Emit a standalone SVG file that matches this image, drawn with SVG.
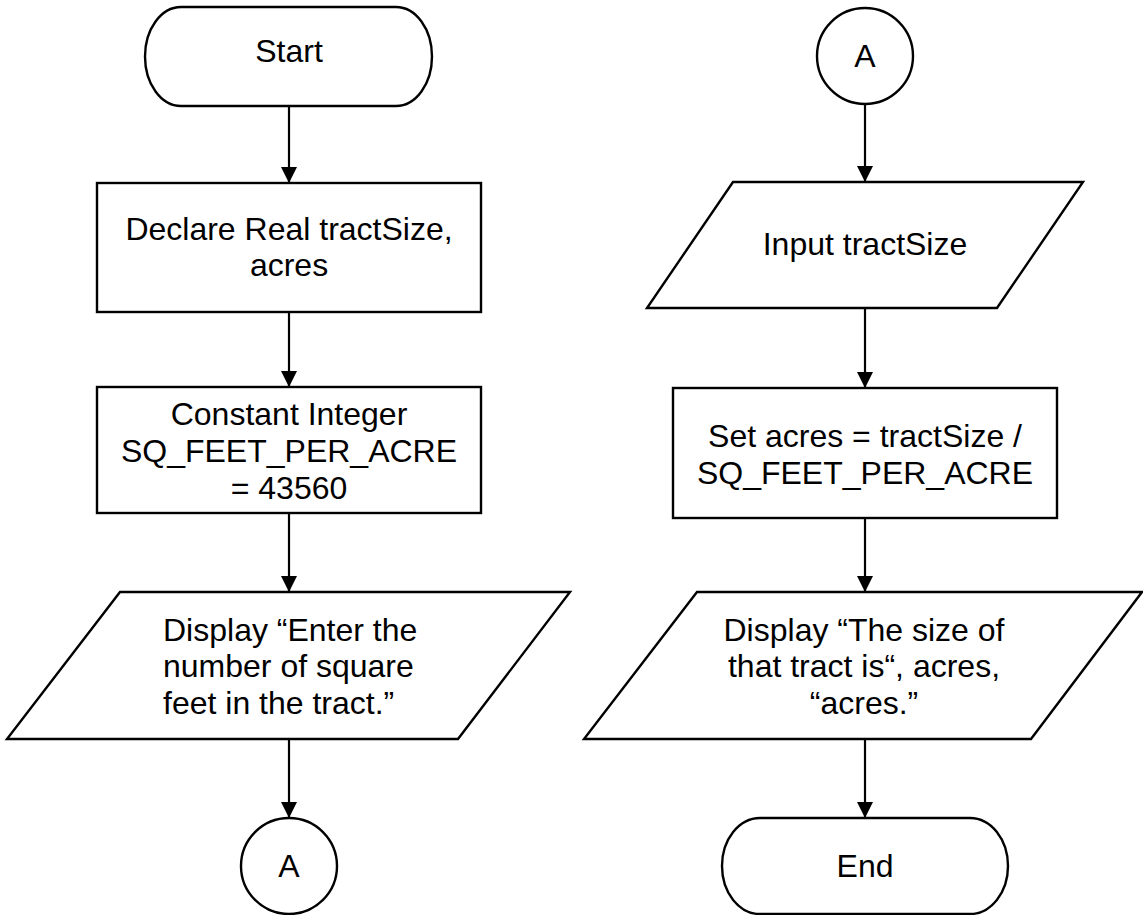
<svg xmlns="http://www.w3.org/2000/svg" width="1143" height="915" viewBox="0 0 1143 915">
<defs>
<marker id="arr" markerUnits="userSpaceOnUse" markerWidth="16" markerHeight="16" refX="16" refY="8" orient="auto">
<path d="M0,0 L16,8 L0,16 z" fill="#000"/>
</marker>
<style>
.s{fill:#fff;stroke:#000;stroke-width:2.4}
.t{font-family:"Liberation Sans",Arial,sans-serif;font-size:32px;fill:#000;text-anchor:middle}
.l{text-anchor:start}
.c{stroke:#000;stroke-width:2.2;fill:none;marker-end:url(#arr)}
</style>
</defs>
<rect width="1143" height="915" fill="#fff"/>
<g id="connectors">
<line class="c" x1="289" y1="106" x2="289" y2="183"/>
<line class="c" x1="289" y1="312" x2="289" y2="387"/>
<line class="c" x1="289" y1="513" x2="289" y2="592"/>
<line class="c" x1="289" y1="739" x2="289" y2="818"/>
<line class="c" x1="865" y1="104" x2="865" y2="182"/>
<line class="c" x1="865" y1="308" x2="865" y2="388"/>
<line class="c" x1="865" y1="518" x2="865" y2="592"/>
<line class="c" x1="865" y1="739" x2="865" y2="818"/>
</g>
<g id="start">
<rect class="s" x="145" y="7" width="287" height="99" rx="36" ry="49.5"/>
<text class="t" x="289" y="62">Start</text>
</g>
<g id="declare">
<rect class="s" x="97" y="183" width="384" height="129"/>
<text class="t" x="289" y="240">Declare Real tractSize,</text>
<text class="t" x="289" y="276">acres</text>
</g>
<g id="constant">
<rect class="s" x="97" y="387" width="384" height="126"/>
<text class="t" x="289" y="425">Constant Integer</text>
<text class="t" x="289" y="462">SQ_FEET_PER_ACRE</text>
<text class="t" x="289" y="499">= 43560</text>
</g>
<g id="display1">
<polygon class="s" points="120,592 570,592 458,739 7,739"/>
<text class="t l" x="163" y="641">Display “Enter the</text>
<text class="t l" x="163" y="677">number of square</text>
<text class="t l" x="163" y="714">feet in the tract.”</text>
</g>
<g id="connectorA1">
<circle class="s" cx="289" cy="866" r="48"/>
<text class="t" x="289" y="877">A</text>
</g>
<g id="connectorA2">
<circle class="s" cx="865" cy="56" r="48"/>
<text class="t" x="865" y="67">A</text>
</g>
<g id="input">
<polygon class="s" points="733,182 1083,182 997,308 647,308"/>
<text class="t" x="865" y="255">Input tractSize</text>
</g>
<g id="set">
<rect class="s" x="673" y="388" width="384" height="130"/>
<text class="t" x="865" y="447">Set acres = tractSize /</text>
<text class="t" x="865" y="484">SQ_FEET_PER_ACRE</text>
</g>
<g id="display2">
<polygon class="s" points="697,592 1142,592 1031,739 584,739"/>
<text class="t" x="864" y="641">Display “The size of</text>
<text class="t" x="864" y="677">that tract is“, acres,</text>
<text class="t" x="864" y="714">“acres.”</text>
</g>
<g id="end">
<rect class="s" x="722" y="818" width="286" height="96" rx="38" ry="48"/>
<text class="t" x="865" y="877">End</text>
</g>
</svg>
